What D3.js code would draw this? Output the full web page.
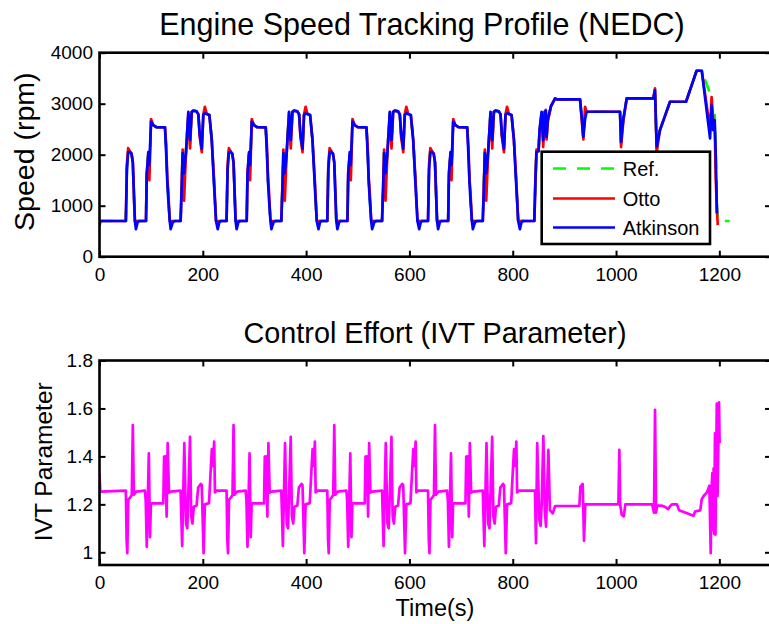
<!DOCTYPE html>
<html>
<head>
<meta charset="utf-8">
<script src="https://cdn.jsdelivr.net/npm/d3@7"></script>
<style>
  html, body { margin: 0; padding: 0; background: #fff; }
  svg { display: block; font-family: "Liberation Sans", Arial, Helvetica, sans-serif; }
</style>
</head>
<body>
<svg id="chart" width="769" height="624"></svg>
<script>
// ---------------- data ----------------
const timeTicks = [0, 200, 400, 600, 800, 1000, 1200];
const speedTicks = [0, 1000, 2000, 3000, 4000];
const ivtTicks = [1, 1.2, 1.4, 1.6, 1.8];
const ivtTickLabels = ["1", "1.2", "1.4", "1.6", "1.8"];
const seriesNames = ["Ref.", "Otto", "Atkinson"];
const seriesColors = ["#00ff00", "#ff0000", "#0000ff"];

// time base (s) shared by the three engine speed traces
const speedTime = [
  0, 2,
  51, 53, 55.5, 58, 62, 64.5, 68.5, 70.5, 74, 77, 90, 91.5, 94.5, 96.5, 99.8, 104, 110, 126.8, 129, 131.4,
  133, 136, 137.8, 142, 146, 157, 159, 161, 163.7, 167.5, 172, 175.3, 178.5, 181.7, 188, 191.4, 194, 198,
  201, 204, 207.6, 212.7, 217.3, 221.8, 225.6, 228.9, 232, 235,
  246, 248, 250.5, 253, 257, 259.5, 263.5, 265.5, 269, 272, 285, 286.5, 289.5, 291.5, 294.8, 299, 305, 321.8, 324, 326.4,
  328, 331, 332.8, 337, 341, 352, 354, 356, 358.7, 362.5, 367, 370.3, 373.5, 376.7, 383, 386.4, 389, 393,
  396, 399, 402.6, 407.7, 412.3, 416.8, 420.6, 423.9, 427, 430,
  441, 443, 445.5, 448, 452, 454.5, 458.5, 460.5, 464, 467, 480, 481.5, 484.5, 486.5, 489.8, 494, 500, 516.8, 519, 521.4,
  523, 526, 527.8, 532, 536, 547, 549, 551, 553.7, 557.5, 562, 565.3, 568.5, 571.7, 578, 581.4, 584, 588,
  591, 594, 597.6, 602.7, 607.3, 611.8, 615.6, 618.9, 622, 625,
  636, 638, 640.5, 643, 647, 649.5, 653.5, 655.5, 659, 662, 675, 676.5, 679.5, 681.5, 684.8, 689, 695, 711.8, 714, 716.4,
  718, 721, 722.8, 727, 731, 742, 744, 746, 748.7, 752.5, 757, 760.3, 763.5, 766.7, 773, 776.4, 779, 783,
  786, 789, 792.6, 797.7, 802.3, 806.8, 810.6, 813.9, 817, 820,
  841.8, 844, 846, 850, 852, 856, 859, 862, 864, 865.5, 868, 874, 882, 886, 930.3, 933, 936.7, 940, 943, 1007.7,
  1009.7, 1014, 1020.7, 1072.2, 1075.4, 1078.7, 1085, 1104.5, 1135.5, 1156, 1166, 1182, 1185, 1188, 1191, 1193,
  1195.3, 1197, 1220
];

// reference engine speed (rpm)
const refSpeed = [
  700, 700,
  700, 1750, 2080, 2060, 2020, 1850, 700, 700, 700, 700, 700, 1600, 2030, 1700, 2650, 2580, 2540, 2535, 2150, 1450,
  1200, 700, 700, 700, 700, 700, 1300, 2045, 1500, 2060, 2830, 2200, 2840, 2860, 2850, 2790, 2400, 2100,
  2790, 2860, 2800, 2780, 2300, 1450, 700, 700, 700, 700,
  700, 1750, 2080, 2060, 2020, 1850, 700, 700, 700, 700, 700, 1600, 2030, 1700, 2650, 2580, 2540, 2535, 2150, 1450,
  1200, 700, 700, 700, 700, 700, 1300, 2045, 1500, 2060, 2830, 2200, 2840, 2860, 2850, 2790, 2400, 2100,
  2790, 2860, 2800, 2780, 2300, 1450, 700, 700, 700, 700,
  700, 1750, 2080, 2060, 2020, 1850, 700, 700, 700, 700, 700, 1600, 2030, 1700, 2650, 2580, 2540, 2535, 2150, 1450,
  1200, 700, 700, 700, 700, 700, 1300, 2045, 1500, 2060, 2830, 2200, 2840, 2860, 2850, 2790, 2400, 2100,
  2790, 2860, 2800, 2780, 2300, 1450, 700, 700, 700, 700,
  700, 1750, 2080, 2060, 2020, 1850, 700, 700, 700, 700, 700, 1600, 2030, 1700, 2650, 2580, 2540, 2535, 2150, 1450,
  1200, 700, 700, 700, 700, 700, 1300, 2045, 1500, 2060, 2830, 2200, 2840, 2860, 2850, 2790, 2400, 2100,
  2790, 2860, 2800, 2780, 2300, 1450, 700, 700, 700, 700,
  700, 1500, 2060, 2070, 2480, 2830, 2250, 2842, 2860, 2330, 2680, 2950, 3104, 3085, 3085, 2780, 2330, 2750, 2842, 2842,
  2220, 2680, 3104, 3104, 3280, 2100, 2482, 3038, 3038, 3646, 3646, 3200, 2900, 2600, 2777, 2000,
  1000, 700, 700
];

// Otto-cycle engine speed (rpm)
const ottoSpeed = [
  600, 700,
  700, 1800, 2130, 2080, 2020, 1850, 700, 700, 700, 700, 700, 1650, 2000, 1500, 2700, 2580, 2540, 2535, 2200, 1500,
  1300, 700, 700, 700, 700, 700, 1350, 2100, 1100, 2060, 2800, 2124, 2840, 2870, 2850, 2790, 2350, 2050,
  2790, 2940, 2800, 2780, 2290, 1500, 700, 700, 700, 700,
  700, 1800, 2130, 2080, 2020, 1850, 700, 700, 700, 700, 700, 1650, 2000, 1500, 2700, 2580, 2540, 2535, 2200, 1500,
  1300, 700, 700, 700, 700, 700, 1350, 2100, 1100, 2060, 2800, 2124, 2840, 2870, 2850, 2790, 2350, 2050,
  2790, 2940, 2800, 2780, 2290, 1500, 700, 700, 700, 700,
  700, 1800, 2130, 2080, 2020, 1850, 700, 700, 700, 700, 700, 1650, 2000, 1500, 2700, 2580, 2540, 2535, 2200, 1500,
  1300, 700, 700, 700, 700, 700, 1350, 2100, 1100, 2060, 2800, 2124, 2840, 2870, 2850, 2790, 2350, 2050,
  2790, 2940, 2800, 2780, 2290, 1500, 700, 700, 700, 700,
  700, 1800, 2130, 2080, 2020, 1850, 700, 700, 700, 700, 700, 1650, 2000, 1500, 2700, 2580, 2540, 2535, 2200, 1500,
  1300, 700, 700, 700, 700, 700, 1350, 2100, 1100, 2060, 2800, 2124, 2840, 2870, 2850, 2790, 2350, 2050,
  2790, 2940, 2800, 2780, 2290, 1500, 700, 700, 700, 700,
  700, 1550, 2100, 2070, 2450, 2800, 2150, 2842, 2880, 2300, 2650, 2950, 3104, 3085, 3085, 2750, 2300, 2940, 2842, 2842,
  2150, 2650, 3104, 3104, 3300, 2050, 2482, 3038, 3038, 3646, 3646, 2500, 3130, 2700, 2600, 1550,
  900, 620, null
];

// Atkinson-cycle engine speed (rpm)
const atkinsonSpeed = [
  700, 700,
  700, 1700, 2050, 2060, 2020, 1850, 700, 540, 680, 700, 700, 1600, 2050, 1800, 2650, 2580, 2540, 2535, 2050, 1440,
  1150, 700, 540, 680, 700, 700, 1300, 2030, 1640, 2060, 2840, 2290, 2840, 2860, 2850, 2790, 2400, 2120,
  2780, 2810, 2800, 2780, 2290, 1400, 700, 540, 680, 700,
  700, 1700, 2050, 2060, 2020, 1850, 700, 540, 680, 700, 700, 1600, 2050, 1800, 2650, 2580, 2540, 2535, 2050, 1440,
  1150, 700, 540, 680, 700, 700, 1300, 2030, 1640, 2060, 2840, 2290, 2840, 2860, 2850, 2790, 2400, 2120,
  2780, 2810, 2800, 2780, 2290, 1400, 700, 540, 680, 700,
  700, 1700, 2050, 2060, 2020, 1850, 700, 540, 680, 700, 700, 1600, 2050, 1800, 2650, 2580, 2540, 2535, 2050, 1440,
  1150, 700, 540, 680, 700, 700, 1300, 2030, 1640, 2060, 2840, 2290, 2840, 2860, 2850, 2790, 2400, 2120,
  2780, 2810, 2800, 2780, 2290, 1400, 700, 540, 680, 700,
  700, 1700, 2050, 2060, 2020, 1850, 700, 540, 680, 700, 700, 1600, 2050, 1800, 2650, 2580, 2540, 2535, 2050, 1440,
  1150, 700, 540, 680, 700, 700, 1300, 2030, 1640, 2060, 2840, 2290, 2840, 2860, 2850, 2790, 2400, 2120,
  2780, 2810, 2800, 2780, 2290, 1400, 700, 540, 680, 700,
  700, 1500, 2058, 2070, 2500, 2842, 2287, 2842, 2860, 2352, 2700, 2950, 3104, 3085, 3085, 2800, 2352, 2700, 2842, 2842,
  2254, 2700, 3104, 3104, 3267, 2156, 2482, 3038, 3038, 3646, 3646, 2320, 2973, 2482, 2680, 2000,
  850, null, null
];

// IVT control parameter
const ivtTime = [
  0, 1.5,
  51, 52.5, 53.8, 55.8, 60, 62.5, 64.5, 66.5, 71, 88, 89.5, 91.5, 95.5, 97.8, 99.5, 101, 123.5, 125, 127.5, 130,
  132, 134.5, 138, 157, 160, 164.2, 167.4, 170, 175.2, 177.5, 180, 182.5, 188, 191, 196, 198, 201.5, 204, 212, 215,
  217.5, 219.5, 222, 223.5, 227,
  246, 247.5, 248.8, 250.8, 255, 257.5, 259.5, 261.5, 266, 283, 284.5, 286.5, 290.5, 292.8, 294.5, 296, 318.5, 320, 322.5, 325,
  327, 329.5, 333, 352, 355, 359.2, 362.4, 365, 370.2, 372.5, 375, 377.5, 383, 386, 391, 393, 396.5, 399, 407, 410,
  412.5, 414.5, 417, 418.5, 422,
  441, 442.5, 443.8, 445.8, 450, 452.5, 454.5, 456.5, 461, 478, 479.5, 481.5, 485.5, 487.8, 489.5, 491, 513.5, 515, 517.5, 520,
  522, 524.5, 528, 547, 550, 554.2, 557.4, 560, 565.2, 567.5, 570, 572.5, 578, 581, 586, 588, 591.5, 594, 602, 605,
  607.5, 609.5, 612, 613.5, 617,
  636, 637.5, 638.8, 640.8, 645, 647.5, 649.5, 651.5, 656, 673, 674.5, 676.5, 680.5, 682.8, 684.5, 686, 708.5, 710, 712.5, 715,
  717, 719.5, 723, 742, 745, 749.2, 752.4, 755, 760.2, 762.5, 765, 767.5, 773, 776, 781, 783, 786.5, 789, 797, 800,
  802.5, 804.5, 807, 808.5, 812,
  838, 843, 845, 847.4, 851.5, 854, 856, 859.3, 862, 864.5, 869, 872, 877.5, 882, 929, 931, 935.5, 938, 940.5, 1004.5,
  1006.4, 1008, 1011, 1015, 1018, 1070, 1073.5, 1075.5, 1077.5, 1079.5, 1088, 1094, 1101, 1104, 1108, 1118, 1122, 1135,
  1150, 1153, 1163, 1166, 1170, 1176, 1180.7, 1183.3, 1185, 1186.5, 1187.5, 1189, 1190, 1191.5, 1192.5, 1195, 1196.5,
  1199.4, 1200.5
];
const ivtValue = [
  1.327, 1.253,
  1.257, 1.05, 0.996, 1.22, 1.23, 1.24, 1.531, 1.24, 1.253, 1.257, 1.215, 1.023, 1.413, 1.063, 1.2, 1.204, 1.204, 1.399, 1.40, 1.149,
  1.455, 1.249, 1.253, 1.257, 1.026, 1.455, 1.121, 1.10, 1.482, 1.15, 1.12, 1.19, 1.195, 1.27, 1.285, 1.28, 0.996, 1.2, 1.205, 1.33,
  1.43, 1.36, 1.462, 1.25, 1.257,
  1.257, 1.05, 0.996, 1.22, 1.23, 1.24, 1.531, 1.24, 1.253, 1.257, 1.215, 1.023, 1.413, 1.063, 1.2, 1.204, 1.204, 1.399, 1.40, 1.149,
  1.455, 1.249, 1.253, 1.257, 1.026, 1.455, 1.121, 1.10, 1.482, 1.15, 1.12, 1.19, 1.195, 1.27, 1.285, 1.28, 0.996, 1.2, 1.205, 1.33,
  1.43, 1.36, 1.462, 1.25, 1.257,
  1.257, 1.05, 0.996, 1.22, 1.23, 1.24, 1.531, 1.24, 1.253, 1.257, 1.215, 1.023, 1.413, 1.063, 1.2, 1.204, 1.204, 1.399, 1.40, 1.149,
  1.455, 1.249, 1.253, 1.257, 1.026, 1.455, 1.121, 1.10, 1.482, 1.15, 1.12, 1.19, 1.195, 1.27, 1.285, 1.28, 0.996, 1.2, 1.205, 1.33,
  1.43, 1.36, 1.462, 1.25, 1.257,
  1.257, 1.05, 0.996, 1.22, 1.23, 1.24, 1.531, 1.24, 1.253, 1.257, 1.215, 1.023, 1.413, 1.063, 1.2, 1.204, 1.204, 1.399, 1.40, 1.149,
  1.455, 1.249, 1.253, 1.257, 1.026, 1.455, 1.121, 1.10, 1.482, 1.15, 1.12, 1.19, 1.195, 1.27, 1.285, 1.28, 0.996, 1.2, 1.205, 1.33,
  1.43, 1.36, 1.462, 1.25, 1.257,
  1.257, 1.257, 1.038, 1.455, 1.135, 1.11, 1.2, 1.485, 1.18, 1.107, 1.427, 1.176, 1.163, 1.193, 1.193, 1.274, 1.285, 1.048, 1.2, 1.2,
  1.427, 1.2, 1.156, 1.15, 1.2, 1.2, 1.165, 1.594, 1.165, 1.195, 1.195, 1.19, 1.18, 1.19, 1.2, 1.2, 1.175, 1.165,
  1.152, 1.17, 1.175, 1.222, 1.236, 1.25, 1.278, 0.996, 1.27, 1.33, 1.093, 1.35, 1.076, 1.496, 1.074, 1.62, 1.235,
  1.625, 1.455
];

// ---------------- layout ----------------
const plotLeft = 99.5, plotRight = 771;
const topPanel = { top: 52.7, bottom: 256.7 };
const botPanel = { top: 360.5, bottom: 565 };
const tickFont = 19;

const svg = d3.select("#chart");
const x = d3.scaleLinear().domain([0, 1300]).range([plotLeft, plotRight]);
const ySpeed = d3.scaleLinear().domain([0, 4000]).range([topPanel.bottom, topPanel.top]);
const yIvt = d3.scaleLinear().domain([0.947, 1.8]).range([botPanel.bottom, botPanel.top]);

const defs = svg.append("defs");
function clipFor(id, panel) {
  defs.append("clipPath").attr("id", id).append("rect")
    .attr("x", plotLeft).attr("y", panel.top)
    .attr("width", plotRight - plotLeft).attr("height", panel.bottom - panel.top);
}
clipFor("clipTop", topPanel);
clipFor("clipBot", botPanel);

function styleAxis(g, showText) {
  g.select(".domain").remove();
  g.selectAll(".tick line").attr("stroke", "#000").attr("stroke-width", 2);
  g.selectAll(".tick text").attr("fill", "#000").attr("font-size", tickFont)
    .attr("font-family", "Liberation Sans, Arial, sans-serif");
  if (!showText) g.selectAll(".tick text").remove();
}

function drawFrame(panel, y, yTickVals, yFmt) {
  const g = svg.append("g");
  g.append("g").attr("transform", `translate(0,${panel.bottom})`)
    .call(d3.axisBottom(x).tickValues(timeTicks).tickSizeInner(-6).tickSizeOuter(0).tickPadding(11).tickFormat(d3.format("d")))
    .call(a => styleAxis(a, true));
  g.append("g").attr("transform", `translate(0,${panel.top})`)
    .call(d3.axisTop(x).tickValues(timeTicks).tickSizeInner(-6).tickSizeOuter(0))
    .call(a => styleAxis(a, false));
  g.append("g").attr("transform", `translate(${plotLeft},0)`)
    .call(d3.axisLeft(y).tickValues(yTickVals).tickSizeInner(-6).tickSizeOuter(0).tickPadding(6.5).tickFormat(yFmt))
    .call(a => styleAxis(a, true));
  g.append("g").attr("transform", `translate(${plotRight},0)`)
    .call(d3.axisRight(y).tickValues(yTickVals).tickSizeInner(-6).tickSizeOuter(0))
    .call(a => styleAxis(a, false));
  g.append("rect")
    .attr("x", plotLeft).attr("y", panel.top)
    .attr("width", plotRight - plotLeft).attr("height", panel.bottom - panel.top)
    .attr("fill", "none").attr("stroke", "#000").attr("stroke-width", 2.6);
}

// ---------------- top panel: engine speed ----------------
const speedSeries = [refSpeed, ottoSpeed, atkinsonSpeed];
const speedLine = d3.line()
  .defined(d => d[1] !== null)
  .x(d => x(d[0])).y(d => ySpeed(d[1]));

const topLines = svg.append("g").attr("clip-path", "url(#clipTop)");
speedSeries.forEach((vals, i) => {
  const pts = speedTime.map((t, k) => [t, vals[k]]);
  topLines.append("path")
    .datum(pts)
    .attr("d", speedLine)
    .attr("fill", "none")
    .attr("stroke", seriesColors[i])
    .attr("stroke-width", 2.7)
    .attr("stroke-linejoin", "round")
    .attr("stroke-dasharray", i === 0 ? "13,11" : null);
});
drawFrame(topPanel, ySpeed, speedTicks, d3.format("d"));

svg.append("text").attr("x", 422).attr("y", 35).attr("text-anchor", "middle")
  .attr("font-size", 30.5).attr("fill", "#000").text("Engine Speed Tracking Profile (NEDC)");
svg.append("text").attr("transform", `translate(33.5,${(topPanel.top + topPanel.bottom) / 2 - 3}) rotate(-90)`)
  .attr("text-anchor", "middle").attr("font-size", 28.5).attr("fill", "#000").text("Speed (rpm)");

// legend
const lg = svg.append("g");
lg.append("rect").attr("x", 541.7).attr("y", 151.7).attr("width", 168.3).attr("height", 92.3)
  .attr("fill", "#fff").attr("stroke", "#000").attr("stroke-width", 2.6);
const legendRows = [168.5, 198.5, 227.5];
seriesNames.forEach((name, i) => {
  lg.append("line").attr("x1", 553).attr("x2", 615).attr("y1", legendRows[i]).attr("y2", legendRows[i])
    .attr("stroke", seriesColors[i]).attr("stroke-width", 2.7)
    .attr("stroke-dasharray", i === 0 ? "13,11" : null);
  lg.append("text").attr("x", 622.7).attr("y", legendRows[i]).attr("dy", "0.35em")
    .attr("font-size", 20).attr("fill", "#000").text(name);
});

// ---------------- bottom panel: IVT parameter ----------------
const ivtLine = d3.line().x(d => x(d[0])).y(d => yIvt(d[1]));
svg.append("g").attr("clip-path", "url(#clipBot)")
  .append("path")
  .datum(ivtTime.map((t, k) => [t, ivtValue[k]]))
  .attr("d", ivtLine)
  .attr("fill", "none")
  .attr("stroke", "#ff00ff")
  .attr("stroke-width", 2.7)
  .attr("stroke-linejoin", "round");
drawFrame(botPanel, yIvt, ivtTicks, (d, i) => ivtTickLabels[i]);

svg.append("text").attr("x", 435).attr("y", 343).attr("text-anchor", "middle")
  .attr("font-size", 28.8).attr("fill", "#000").text("Control Effort (IVT Parameter)");
svg.append("text").attr("transform", `translate(52,${(botPanel.top + botPanel.bottom) / 2 - 1}) rotate(-90)`)
  .attr("text-anchor", "middle").attr("font-size", 24.5).attr("fill", "#000").text("IVT Parameter");
svg.append("text").attr("x", 435).attr("y", 616).attr("text-anchor", "middle")
  .attr("font-size", 23.5).attr("fill", "#000").text("Time(s)");
</script>
</body>
</html>
